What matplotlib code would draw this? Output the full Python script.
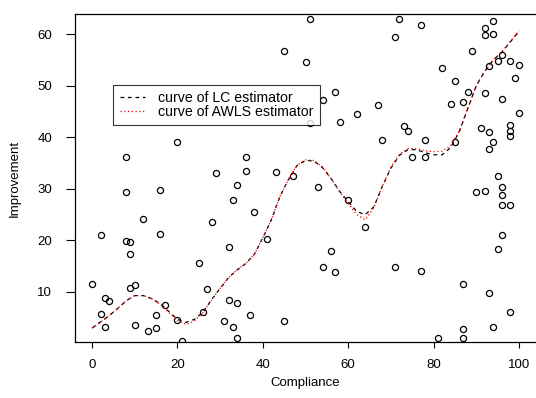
import matplotlib
matplotlib.use("Agg")
import matplotlib.pyplot as plt
import numpy as np

compliance = [0, 2, 2, 3, 3, 4, 8, 8, 8, 9, 9, 9, 10, 10, 12, 13, 15, 15, 16, 16,
              17, 20, 20, 21, 25, 26, 27, 28, 29, 31, 32, 32, 33, 33, 34, 34, 34, 36, 36, 37,
              38, 41, 43, 45, 45, 47, 50, 51, 51, 53, 54, 54, 56, 57, 57, 58, 60, 62, 64, 67,
              68, 71, 71, 72, 73, 74, 75, 77, 77, 78, 78, 81, 82, 84, 85, 85, 87, 87, 87, 87,
              88, 89, 90, 91, 92, 92, 92, 92, 93, 93, 93, 93, 94, 94, 94, 94, 95, 95, 95, 96,
              96, 96, 96, 96, 96, 98, 98, 98, 98, 98, 98, 99, 100, 100]
improvement = [11.5, 21.1, 5.8, 8.8, 3.2, 8.3, 36.2, 29.3, 19.8, 19.6, 17.3, 10.8, 11.3, 3.6, 24.1, 2.5, 5.5, 3.0, 29.8, 21.3,
               7.5, 39.1, 4.6, 0.5, 15.7, 6.1, 10.5, 23.5, 33.1, 4.4, 18.8, 8.5, 27.8, 3.3, 30.8, 7.9, 1.1, 36.2, 33.5, 5.6,
               25.5, 20.3, 33.3, 56.7, 4.3, 32.5, 54.5, 62.9, 42.8, 30.3, 47.3, 14.8, 18.0, 48.7, 13.8, 43.0, 27.8, 44.5, 22.6, 46.3,
               39.5, 59.5, 14.8, 63.0, 42.1, 41.2, 36.2, 61.7, 14.0, 39.5, 36.1, 1.1, 53.5, 46.5, 50.9, 39.0, 46.8, 11.5, 2.8, 1.1,
               48.8, 56.7, 29.3, 41.8, 61.2, 59.8, 48.5, 29.5, 53.8, 41.0, 37.8, 9.8, 62.5, 60.0, 39.1, 3.3, 54.7, 32.5, 18.3, 56.0,
               47.5, 30.3, 28.8, 26.8, 21.1, 54.7, 42.3, 41.3, 40.3, 26.8, 6.1, 51.5, 54.1, 44.8]

curve_x = [0, 2, 4, 6, 8, 10, 12, 14, 16, 18, 20, 22, 24, 26, 28, 30, 32, 34, 36, 38,
           40, 42, 44, 46, 48, 50, 52, 54, 56, 58, 60, 62, 64, 66, 68, 70, 72, 74, 76, 78,
           80, 82, 84, 86, 88, 90, 92, 94, 96, 98, 100]
lc_curve = [3.0, 4.2, 5.4, 6.8, 8.3, 9.3, 9.3, 8.7, 7.7, 6.2, 4.7, 4.1, 4.7, 6.1, 8.5, 10.7, 12.8, 14.3, 15.5, 17.3,
            20.5, 24.0, 28.5, 31.8, 34.5, 35.5, 35.4, 34.1, 32.0, 29.5, 27.5, 25.6, 25.0, 26.5, 30.5, 34.0, 36.5, 37.6, 37.6, 37.0,
            36.6, 36.6, 38.0, 41.0, 45.5, 50.0, 52.8, 55.0, 56.5, 58.5, 60.5]
awls_curve = [3.0, 4.2, 5.4, 6.8, 8.3, 9.3, 9.3, 8.7, 7.6, 6.0, 4.4, 3.7, 4.4, 6.0, 8.5, 10.7, 12.8, 14.3, 15.5, 17.3,
              20.5, 24.0, 28.5, 31.8, 34.6, 35.6, 35.5, 34.2, 32.0, 29.4, 27.2, 25.0, 24.0, 26.3, 30.5, 34.2, 36.7, 37.8, 37.8, 37.4,
              37.2, 37.3, 38.4, 41.2, 45.6, 50.0, 52.8, 55.0, 56.6, 58.6, 60.7]

x_ticks = [0, 20, 40, 60, 80, 100]
y_ticks = [10, 20, 30, 40, 50, 60]
legend_labels = ["curve of LC estimator", "curve of AWLS estimator"]

plt.rcParams['font.family'] = ['Liberation Sans', 'DejaVu Sans']

fig = plt.figure(figsize=(5.36, 3.98), dpi=100)
ax = fig.add_axes([75/536, 1 - 342/398, 1 - 75/536, (342 - 14)/398])

ax.plot(compliance, improvement, linestyle='none', marker='o', markersize=4.4,
        markerfacecolor='none', markeredgecolor='black', markeredgewidth=0.9)
ax.plot(curve_x, lc_curve, color='black', linestyle=(0, (3, 3)), linewidth=0.9,
        label=legend_labels[0])
ax.plot(curve_x, awls_curve, color='red', linestyle=(0, (1, 2)), linewidth=0.9,
        label=legend_labels[1])

ax.set_xlim(-4, 104)
ax.set_ylim(0.3, 63.9)
ax.set_xticks(x_ticks)
ax.set_yticks(y_ticks)
ax.tick_params(axis='x', direction='out', length=4, width=0.8, labelsize=9.5, pad=8)
ax.tick_params(axis='y', direction='out', length=6.5, width=0.8, labelsize=9.5, pad=10)
for s in ax.spines.values():
    s.set_linewidth(0.9)
ax.spines['right'].set_visible(False)
ax.set_xlabel("Compliance", fontsize=9.5)
ax.set_ylabel("Improvement", fontsize=9.5)
ax.xaxis.set_label_coords(0.5, (342 - 383) / 328)
ax.yaxis.set_label_coords((15 - 75) / 461, 0.5)
ax.xaxis.label.set_va('center')
ax.yaxis.label.set_va('center')

leg = ax.legend(loc='upper left', bbox_to_anchor=(5, 50.2), bbox_transform=ax.transData,
                fontsize=10.2, frameon=True, fancybox=False, edgecolor='black',
                handlelength=1.8, handletextpad=0.9, borderpad=0.45, labelspacing=0.0,
                borderaxespad=0)
leg.get_frame().set_linewidth(0.8)

fig.savefig("out.png", dpi=100)
